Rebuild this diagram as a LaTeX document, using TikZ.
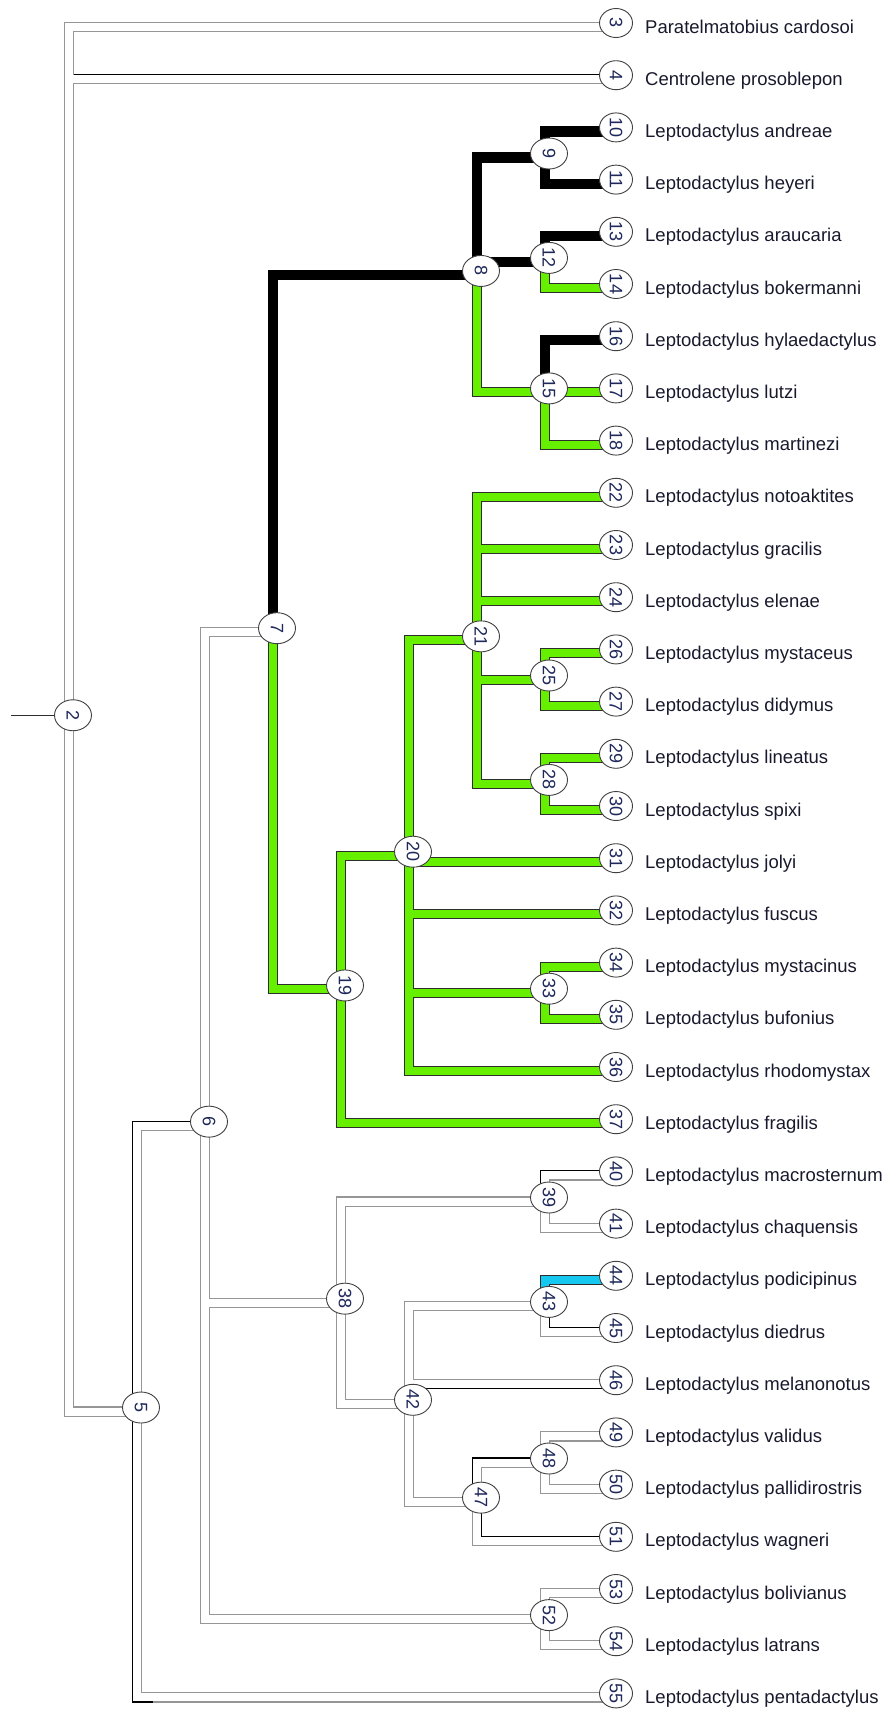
\documentclass[tikz,border=0pt]{standalone}
\usepackage{fontspec}
\setmainfont{Liberation Sans}
\usetikzlibrary{shapes.geometric,calc}

\definecolor{linegray}{RGB}{150,150,150}
\definecolor{darkline}{RGB}{45,45,45}
\definecolor{bandgreen}{RGB}{102,240,0}
\definecolor{bandcyan}{RGB}{20,200,240}
\definecolor{numink}{RGB}{30,40,90}
\definecolor{nameink}{RGB}{25,25,45}

\pgfdeclarelayer{edgelines}
\pgfdeclarelayer{edgefill}
\pgfsetlayers{edgelines,edgefill,main}

\def\bandw{8}

\tikzset{
  hnode/.style={ellipse, draw=black!75, line width=0.9pt, fill=white, inner sep=0pt,
    minimum width=31pt, minimum height=37pt, rotate=-90, text=numink,
    font=\fontsize{18}{18}\selectfont},
  leaf/.style={hnode, minimum width=29pt, minimum height=33pt},
  taxon/.style={anchor=base west, inner sep=0pt, text=nameink,
    font=\fontsize{18.5}{20}\selectfont},
  stub/.style={draw=darkline, line width=1.3pt},
  lgray/.style={draw=linegray, line width=2.2pt},
  lblack/.style={draw=black, line width=2.2pt},
  ldark/.style={draw=darkline, line width=2pt},
  fwhite/.style={draw=white, line width=8pt},
  fblack/.style={draw=black, line width=8pt},
  fgreen/.style={draw=bandgreen, line width=8pt},
  fcyan/.style={draw=bandcyan, line width=8pt}
}

% #1 parent, #2 child, #3 band, #4 outer line, #5 inner line
\newcommand{\twigup}[5]{%
  \begin{pgfonlayer}{edgelines}
    \draw[#4] ($(#1.center)+(-\bandw,0)$) |- (#2.center);
    \draw[#5] (#1.center) |- ($(#2.center)+(0,\bandw)$);
  \end{pgfonlayer}
  \begin{pgfonlayer}{edgefill}
    \draw[#3] ($(#1.center)+(-\bandw/2,0)$) |- ($(#2.center)+(0,\bandw/2)$);
  \end{pgfonlayer}}
\newcommand{\twigdn}[5]{%
  \begin{pgfonlayer}{edgelines}
    \draw[#4] ($(#1.center)+(-\bandw,0)$) |- ($(#2.center)+(0,\bandw)$);
    \draw[#5] (#1.center) |- (#2.center);
  \end{pgfonlayer}
  \begin{pgfonlayer}{edgefill}
    \draw[#3] ($(#1.center)+(-\bandw/2,0)$) |- ($(#2.center)+(0,\bandw/2)$);
  \end{pgfonlayer}}

\begin{document}
\begin{tikzpicture}[x=1pt,y=-1pt]
  \useasboundingbox (0,0) rectangle (893,1711);

  % inner nodes
  \node[hnode] (n2) at (73,715.25) {2};
  \node[hnode] (n5) at (141,1407.5) {5};
  \node[hnode] (n6) at (209,1121.65) {6};
  \node[hnode] (n7) at (277,628.2) {7};
  \node[hnode] (n19) at (345,985.45) {19};
  \node[hnode] (n38) at (345,1298.65) {38};
  \node[hnode] (n20) at (413,851.7) {20};
  \node[hnode] (n42) at (413,1399.8) {42};
  \node[hnode] (n8) at (481,270.95) {8};
  \node[hnode] (n21) at (481,636.35) {21};
  \node[hnode] (n47) at (481,1497.65) {47};
  \node[hnode] (n9) at (549,153.5) {9};
  \node[hnode] (n12) at (549,257.9) {12};
  \node[hnode] (n15) at (549,388.4) {15};
  \node[hnode] (n25) at (549,675.5) {25};
  \node[hnode] (n28) at (549,779.9) {28};
  \node[hnode] (n33) at (549,988.7) {33};
  \node[hnode] (n39) at (549,1197.5) {39};
  \node[hnode] (n43) at (549,1301.9) {43};
  \node[hnode] (n48) at (549,1458.5) {48};
  \node[hnode] (n52) at (549,1615.1) {52};

  % tips
  \node[leaf] (n3) at (616,23) {3};
  \node[leaf] (n4) at (616,75.2) {4};
  \node[leaf] (n10) at (616,127.4) {10};
  \node[leaf] (n11) at (616,179.6) {11};
  \node[leaf] (n13) at (616,231.8) {13};
  \node[leaf] (n14) at (616,284) {14};
  \node[leaf] (n16) at (616,336.2) {16};
  \node[leaf] (n17) at (616,388.4) {17};
  \node[leaf] (n18) at (616,440.6) {18};
  \node[leaf] (n22) at (616,492.8) {22};
  \node[leaf] (n23) at (616,545) {23};
  \node[leaf] (n24) at (616,597.2) {24};
  \node[leaf] (n26) at (616,649.4) {26};
  \node[leaf] (n27) at (616,701.6) {27};
  \node[leaf] (n29) at (616,753.8) {29};
  \node[leaf] (n30) at (616,806) {30};
  \node[leaf] (n31) at (616,858.2) {31};
  \node[leaf] (n32) at (616,910.4) {32};
  \node[leaf] (n34) at (616,962.6) {34};
  \node[leaf] (n35) at (616,1014.8) {35};
  \node[leaf] (n36) at (616,1067) {36};
  \node[leaf] (n37) at (616,1119.2) {37};
  \node[leaf] (n40) at (616,1171.4) {40};
  \node[leaf] (n41) at (616,1223.6) {41};
  \node[leaf] (n44) at (616,1275.8) {44};
  \node[leaf] (n45) at (616,1328) {45};
  \node[leaf] (n46) at (616,1380.2) {46};
  \node[leaf] (n49) at (616,1432.4) {49};
  \node[leaf] (n50) at (616,1484.6) {50};
  \node[leaf] (n51) at (616,1536.8) {51};
  \node[leaf] (n53) at (616,1589) {53};
  \node[leaf] (n54) at (616,1641.2) {54};
  \node[leaf] (n55) at (616,1693.4) {55};

  \node[taxon] (t3) at (645,33) {Paratelmatobius cardosoi};
  \node[taxon] (t4) at (645,85.2) {Centrolene prosoblepon};
  \node[taxon] (t10) at (645,137.4) {Leptodactylus andreae};
  \node[taxon] (t11) at (645,189.6) {Leptodactylus heyeri};
  \node[taxon] (t13) at (645,241.8) {Leptodactylus araucaria};
  \node[taxon] (t14) at (645,294) {Leptodactylus bokermanni};
  \node[taxon] (t16) at (645,346.2) {Leptodactylus hylaedactylus};
  \node[taxon] (t17) at (645,398.4) {Leptodactylus lutzi};
  \node[taxon] (t18) at (645,450.6) {Leptodactylus martinezi};
  \node[taxon] (t22) at (645,502.8) {Leptodactylus notoaktites};
  \node[taxon] (t23) at (645,555) {Leptodactylus gracilis};
  \node[taxon] (t24) at (645,607.2) {Leptodactylus elenae};
  \node[taxon] (t26) at (645,659.4) {Leptodactylus mystaceus};
  \node[taxon] (t27) at (645,711.6) {Leptodactylus didymus};
  \node[taxon] (t29) at (645,763.8) {Leptodactylus lineatus};
  \node[taxon] (t30) at (645,816) {Leptodactylus spixi};
  \node[taxon] (t31) at (645,868.2) {Leptodactylus jolyi};
  \node[taxon] (t32) at (645,920.4) {Leptodactylus fuscus};
  \node[taxon] (t34) at (645,972.6) {Leptodactylus mystacinus};
  \node[taxon] (t35) at (645,1024.8) {Leptodactylus bufonius};
  \node[taxon] (t36) at (645,1077) {Leptodactylus rhodomystax};
  \node[taxon] (t37) at (645,1129.2) {Leptodactylus fragilis};
  \node[taxon] (t40) at (645,1181.4) {Leptodactylus macrosternum};
  \node[taxon] (t41) at (645,1233.6) {Leptodactylus chaquensis};
  \node[taxon] (t44) at (645,1285.8) {Leptodactylus podicipinus};
  \node[taxon] (t45) at (645,1338) {Leptodactylus diedrus};
  \node[taxon] (t46) at (645,1390.2) {Leptodactylus melanonotus};
  \node[taxon] (t49) at (645,1442.4) {Leptodactylus validus};
  \node[taxon] (t50) at (645,1494.6) {Leptodactylus pallidirostris};
  \node[taxon] (t51) at (645,1546.8) {Leptodactylus wagneri};
  \node[taxon] (t53) at (645,1599) {Leptodactylus bolivianus};
  \node[taxon] (t54) at (645,1651.2) {Leptodactylus latrans};
  \node[taxon] (t55) at (645,1703.4) {Leptodactylus pentadactylus};

  % root
  \coordinate (rootin) at (11,715.25);
  \draw[stub] (rootin) -- (n2);

  \twigup{n2}{n4}{fwhite}{lblack}{lgray}
  \twigup{n2}{n3}{fwhite}{lgray}{lgray}
  \twigdn{n2}{n5}{fwhite}{lgray}{lgray}
  \twigup{n5}{n6}{fwhite}{lblack}{lgray}
  \twigdn{n5}{n55}{fwhite}{lgray}{lgray}
  \coordinate (corner55) at ($(n5.center |- n55.center)+(12,\bandw)$);
  \begin{pgfonlayer}{edgelines}
    \draw[lblack] ($(n5.center)+(-\bandw,0)$) |- (corner55);
  \end{pgfonlayer}
  \twigup{n6}{n7}{fwhite}{lgray}{lgray}
  \twigdn{n6}{n38}{fwhite}{lgray}{lgray}
  \twigdn{n6}{n52}{fwhite}{lgray}{lgray}

  \twigup{n7}{n8}{fblack}{lblack}{lblack}
  \twigdn{n7}{n19}{fgreen}{ldark}{ldark}
  \twigup{n8}{n9}{fblack}{lblack}{lblack}
  \twigup{n8}{n12}{fblack}{lblack}{lblack}
  \twigdn{n8}{n15}{fgreen}{ldark}{ldark}
  \twigup{n9}{n10}{fblack}{lblack}{lblack}
  \twigdn{n9}{n11}{fblack}{lblack}{lblack}
  \twigup{n12}{n13}{fblack}{lblack}{lblack}
  \twigdn{n12}{n14}{fgreen}{ldark}{ldark}
  \twigup{n15}{n16}{fblack}{lblack}{lblack}
  \twigdn{n15}{n17}{fgreen}{ldark}{ldark}
  \twigdn{n15}{n18}{fgreen}{ldark}{ldark}

  \twigup{n19}{n20}{fgreen}{ldark}{ldark}
  \twigdn{n19}{n37}{fgreen}{ldark}{ldark}
  \twigup{n20}{n21}{fgreen}{ldark}{ldark}
  \twigdn{n20}{n31}{fgreen}{ldark}{ldark}
  \twigdn{n20}{n32}{fgreen}{ldark}{ldark}
  \twigdn{n20}{n33}{fgreen}{ldark}{ldark}
  \twigdn{n20}{n36}{fgreen}{ldark}{ldark}
  \twigup{n21}{n22}{fgreen}{ldark}{ldark}
  \twigup{n21}{n23}{fgreen}{ldark}{ldark}
  \twigup{n21}{n24}{fgreen}{ldark}{ldark}
  \twigdn{n21}{n25}{fgreen}{ldark}{ldark}
  \twigdn{n21}{n28}{fgreen}{ldark}{ldark}
  \twigup{n25}{n26}{fgreen}{ldark}{ldark}
  \twigdn{n25}{n27}{fgreen}{ldark}{ldark}
  \twigup{n28}{n29}{fgreen}{ldark}{ldark}
  \twigdn{n28}{n30}{fgreen}{ldark}{ldark}
  \twigup{n33}{n34}{fgreen}{ldark}{ldark}
  \twigdn{n33}{n35}{fgreen}{ldark}{ldark}

  \twigup{n38}{n39}{fwhite}{lgray}{lgray}
  \twigdn{n38}{n42}{fwhite}{lgray}{lgray}
  \twigup{n39}{n40}{fwhite}{lblack}{lgray}
  \twigdn{n39}{n41}{fwhite}{lgray}{lgray}
  \twigup{n42}{n46}{fwhite}{lgray}{lblack}
  \twigup{n42}{n43}{fwhite}{lgray}{lgray}
  \twigdn{n42}{n47}{fwhite}{lgray}{lgray}
  \twigup{n43}{n44}{fcyan}{ldark}{ldark}
  \twigdn{n43}{n45}{fwhite}{lgray}{lblack}
  \twigup{n47}{n48}{fwhite}{lblack}{lgray}
  \twigdn{n47}{n51}{fwhite}{lgray}{lblack}
  \twigup{n48}{n49}{fwhite}{lgray}{lgray}
  \twigdn{n48}{n50}{fwhite}{lgray}{lgray}
  \twigup{n52}{n53}{fwhite}{lgray}{lgray}
  \twigdn{n52}{n54}{fwhite}{lgray}{lgray}
\end{tikzpicture}
\end{document}
